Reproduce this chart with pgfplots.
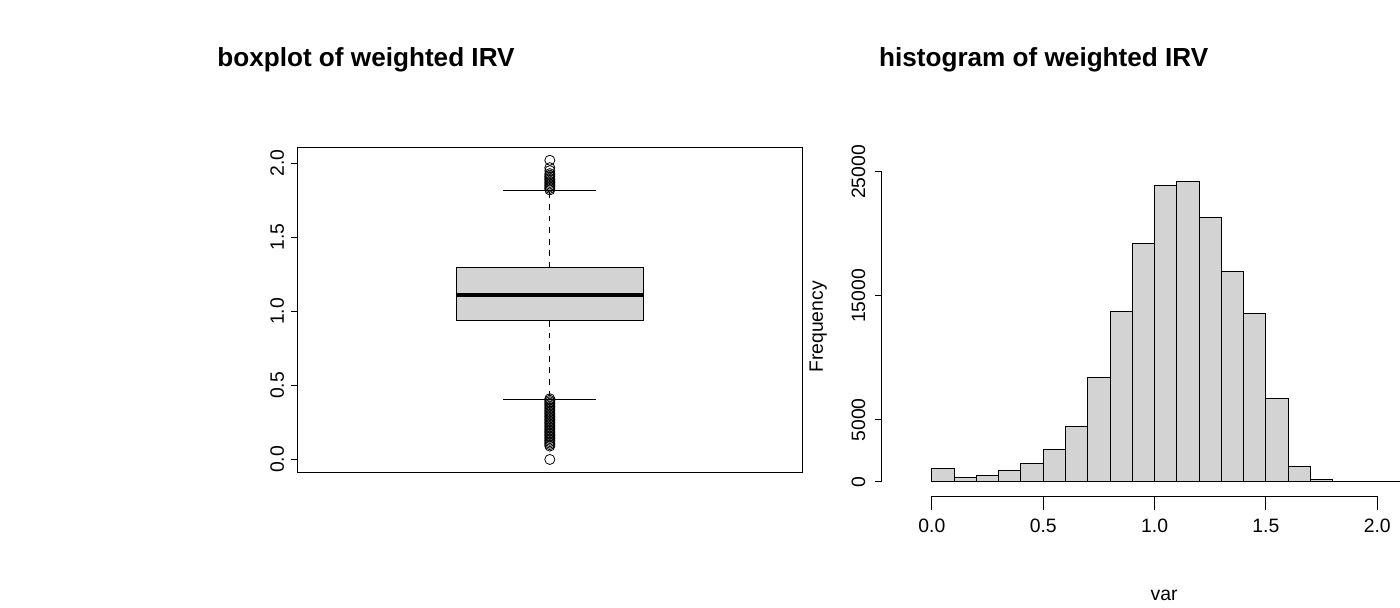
\documentclass[border=0pt]{standalone}
\usepackage{pgfplots}
\pgfplotsset{compat=1.18}
\usepackage{fontspec}
\setmainfont{Liberation Sans}
\definecolor{bxg}{RGB}{211,211,211}
\newcommand{\xt}[2]{\draw[line width=0.5pt] (axis cs:#1,-1172) -- (axis cs:#1,-2266);
  \node[anchor=north,font=\fontsize{10}{12}\selectfont,inner sep=2pt] at (axis cs:#1,-2700) {#2};}
\newcommand{\yt}[1]{\draw[line width=0.5pt] (axis cs:-0.226,#1) -- (axis cs:-0.256,#1);
  \node[anchor=south,rotate=90,font=\fontsize{10}{12}\selectfont,inner sep=2pt] at (axis cs:-0.28,#1) {#1};}
\begin{document}
\begin{tikzpicture}[x=1pt,y=1pt]
\path (0,0) rectangle (700,300);
\node[font=\bfseries\fontsize{13.5}{15}\selectfont] at (189,269) {boxplot of weighted IRV};
\node[font=\bfseries\fontsize{13.5}{15}\selectfont] at (539,269) {histogram of weighted IRV};
\begin{axis}[at={(59,73.5)},anchor=south west,scale only axis,width=260.5pt,height=167.5pt,
  xmin=0.5,xmax=1.5,ymin=-0.085,ymax=2.105,xtick=\empty,
  ytick={0,0.5,1,1.5,2},yticklabels={0.0,0.5,1.0,1.5,2.0},
  yticklabel style={rotate=90,anchor=south,font=\fontsize{10}{12}\selectfont},
  /pgf/number format/assume math mode=true,
  tick align=outside,ytick pos=left,major tick length=3.5pt,
  axis line style={line width=0.5pt},tick style={black,line width=0.5pt},clip=false]
\addplot[fill=bxg,draw=black,line width=0.5pt] coordinates {(0.815,0.935)(1.185,0.935)(1.185,1.294)(0.815,1.294)} -- cycle;
\addplot[line width=2pt] coordinates {(0.815,1.111)(1.185,1.111)};
\addplot[dashed,line width=0.4pt] coordinates {(1,1.294)(1,1.817)};
\addplot[dashed,line width=0.4pt] coordinates {(1,0.935)(1,0.405)};
\addplot[line width=0.5pt] coordinates {(0.908,1.817)(1.092,1.817)};
\addplot[line width=0.5pt] coordinates {(0.908,0.405)(1.092,0.405)};
\addplot[only marks,mark=o,mark size=2.6pt,line width=0.4pt] coordinates {
(1,1.82)(1,1.83)(1,1.84)(1,1.85)(1,1.86)(1,1.87)(1,1.88)(1,1.89)(1,1.90)(1,1.91)(1,1.92)(1,1.93)(1,1.95)(1,1.97)(1,2.02)
(1,0.41)(1,0.40)(1,0.39)(1,0.38)(1,0.37)(1,0.36)(1,0.35)(1,0.34)(1,0.33)(1,0.32)(1,0.31)(1,0.30)(1,0.29)(1,0.28)(1,0.27)(1,0.26)(1,0.25)(1,0.24)(1,0.23)(1,0.22)(1,0.21)(1,0.20)(1,0.19)(1,0.18)(1,0.17)(1,0.16)(1,0.15)(1,0.14)(1,0.13)(1,0.12)(1,0.11)(1,0.10)(1,0.09)(1,0.0)};
\end{axis}
\begin{axis}[at={(418.5,80)},anchor=south west,scale only axis,width=241.5pt,height=160pt,
  xmin=0,xmax=2.1,ymin=0,ymax=25000,axis lines=none,clip=false]
\addplot[ybar interval,fill=bxg,draw=black,line width=0.5pt] coordinates {
(0.0,1090)(0.1,310)(0.2,470)(0.3,910)(0.4,1460)(0.5,2580)(0.6,4430)(0.7,8440)(0.8,13720)(0.9,19190)(1.0,23900)(1.1,24190)(1.2,21300)(1.3,17000)(1.4,13600)(1.5,6690)(1.6,1220)(1.7,210)(1.8,25)(1.9,8)(2.0,3)(2.1,3)};
\draw[line width=0.5pt] (axis cs:0,-1172) -- (axis cs:2,-1172);
\xt{0}{0.0}\xt{0.5}{0.5}\xt{1}{1.0}\xt{1.5}{1.5}\xt{2}{2.0}
\draw[line width=0.5pt] (axis cs:-0.226,0) -- (axis cs:-0.226,25000);
\yt{0}\yt{5000}\yt{15000}\yt{25000}
\node[rotate=90,font=\fontsize{10}{12}\selectfont] at (axis cs:-0.51,12500) {Frequency};
\node[font=\fontsize{10}{12}\selectfont] at (axis cs:1.043,-9200) {var};
\end{axis}
\end{tikzpicture}
\end{document}
